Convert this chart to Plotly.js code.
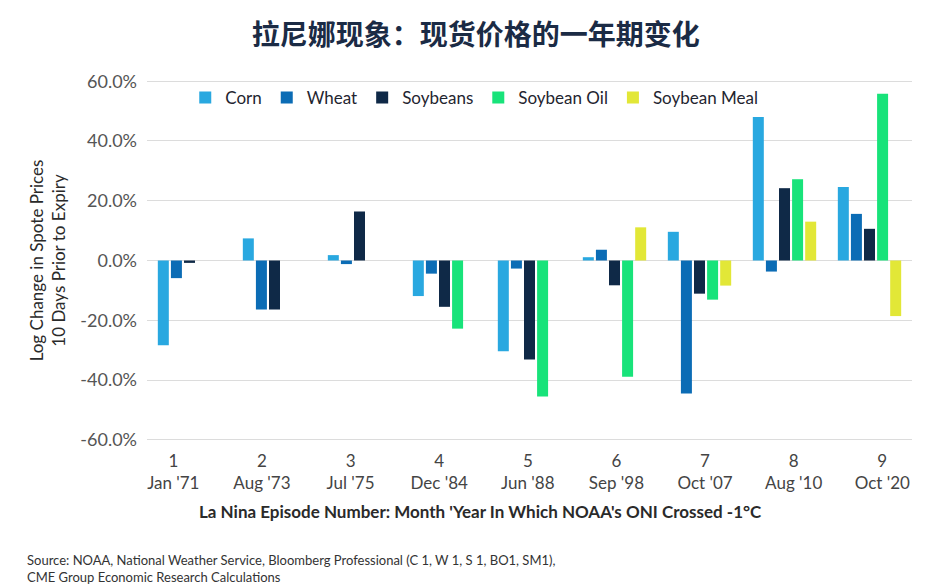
<!DOCTYPE html>
<html>
<head>
<meta charset="utf-8">
<script src="https://cdn.plot.ly/plotly-3.0.1.min.js"></script>
<style>
html,body{margin:0;padding:0;background:#fff;}
#chart{width:940px;height:586px;}
</style>
</head>
<body>
<div id="chart"></div>
<script>
const episodes = ['1','2','3','4','5','6','7','8','9'];
const episodeNums = [1,2,3,4,5,6,7,8,9];
const months = ["Jan '71","Aug '73","Jul '75","Dec '84","Jun '88","Sep '98","Oct '07","Aug '10","Oct '20"];

const corn        = [-28.4, 7.4, 1.8, -11.9, -30.4, 1.1, 9.6, 48.0, 24.6];
const wheat       = [-5.9, -16.4, -1.2, -4.4, -2.7, 3.6, -44.5, -3.7, 15.6];
const soybeans    = [-0.8, -16.4, 16.4, -15.5, -33.1, -8.3, -11.1, 24.2, 10.6];
const soybeanOil  = [null, null, null, -22.8, -45.5, -38.9, -13.1, 27.2, 55.8];
const soybeanMeal = [null, null, null, null, null, 11.1, -8.4, 13.0, -18.6];

const seriesNames = ['Corn','Wheat','Soybeans','Soybean Oil','Soybean Meal'];
const seriesValues = [corn, wheat, soybeans, soybeanOil, soybeanMeal];
const seriesColors = ['#29A8E0','#0B6CB5','#0F2947','#18E37A','#E2E737'];

const yTicks = [-60,-40,-20,0,20,40,60];
const yTickLabels = ['-60.0%','-40.0%','-20.0%','0.0%','20.0%','40.0%','60.0%'];

const FONT = 'Lato, "Open Sans", sans-serif';

const traces = seriesNames.map((name, i) => ({
  type: 'bar',
  name: name,
  x: episodes,
  y: seriesValues[i],
  marker: {color: seriesColors[i], line: {width: 0}},
  hoverinfo: 'name+y'
}));

// helper trace that carries the episode labels axis
traces.push({
  type: 'scatter',
  mode: 'markers',
  x: episodeNums,
  y: episodeNums.map(() => null),
  xaxis: 'x2',
  yaxis: 'y',
  showlegend: false,
  hoverinfo: 'skip',
  marker: {opacity: 0}
});

const layout = {
  width: 940,
  height: 586,
  paper_bgcolor: '#ffffff',
  plot_bgcolor: '#ffffff',
  margin: {l: 147, r: 28, t: 80, b: 145},
  barmode: 'group',
  bargap: 0.23,
  bargroupgap: 0.16,
  font: {family: FONT, size: 17, color: '#333333'},
  title: {
    text: '<b>拉尼娜现象：现货价格的一年期变化</b>',
    font: {family: '"Noto Sans CJK SC", sans-serif', size: 28, color: '#1B2B45'},
    x: 0.506, xref: 'container', xanchor: 'center',
    y: 0.94, yref: 'container', yanchor: 'middle'
  },
  showlegend: true,
  legend: {
    orientation: 'h',
    x: 0.05, xanchor: 'left',
    y: 0.95, yanchor: 'middle',
    bgcolor: 'rgba(0,0,0,0)',
    font: {family: FONT, size: 17, color: '#1F2530'},
    traceorder: 'normal',
    itemclick: false
  },
  xaxis: {
    type: 'category',
    range: [-0.5, 8.5],
    showticklabels: false,
    ticks: '',
    showgrid: false,
    zeroline: false,
    showline: false,
    fixedrange: true
  },
  xaxis2: {
    overlaying: 'x',
    anchor: 'y',
    side: 'bottom',
    range: [0.703, 9.335],
    tickmode: 'array',
    tickvals: episodeNums,
    ticktext: episodes.map((e, i) => e + '<br>' + months[i]),
    tickfont: {family: FONT, size: 17, color: '#444444'},
    ticks: '',
    ticklabelstandoff: 8,
    showgrid: false,
    zeroline: false,
    showline: false,
    fixedrange: true
  },
  yaxis: {
    range: [-60.4, 60.4],
    tickmode: 'array',
    tickvals: yTicks,
    ticktext: yTickLabels,
    tickfont: {family: FONT, size: 18, color: '#555555'},
    ticks: '',
    ticklabelstandoff: 9,
    showgrid: true,
    gridcolor: '#DCDCDC',
    gridwidth: 1,
    zeroline: true,
    zerolinecolor: '#DCDCDC',
    zerolinewidth: 1,
    showline: false,
    fixedrange: true,
    title: {
      text: 'Log Change in Spote Prices<br>10 Days Prior to Expiry',
      font: {family: FONT, size: 17, color: '#2A2A2A'},
      standoff: 10
    }
  },
  annotations: [
    {
      text: "<b>La Nina Episode Number: Month 'Year In Which NOAA's ONI Crossed -1°C</b>",
      xref: 'paper', yref: 'paper',
      x: (480 - 147) / 765, y: -70 / 361,
      xanchor: 'center', yanchor: 'middle',
      showarrow: false,
      font: {family: FONT, size: 17, color: '#2A2A2A'}
    },
    {
      text: 'Source: NOAA, National Weather Service, Bloomberg Professional (C 1, W 1, S 1, BO1, SM1),<br>CME Group Economic Research Calculations',
      xref: 'paper', yref: 'paper',
      x: -122 / 765, y: -127 / 361,
      xanchor: 'left', yanchor: 'middle',
      align: 'left',
      showarrow: false,
      font: {family: FONT, size: 13, color: '#333333'}
    }
  ]
};

Plotly.newPlot('chart', traces, layout, {displayModeBar: false, responsive: false, staticPlot: true});
</script>
</body>
</html>
